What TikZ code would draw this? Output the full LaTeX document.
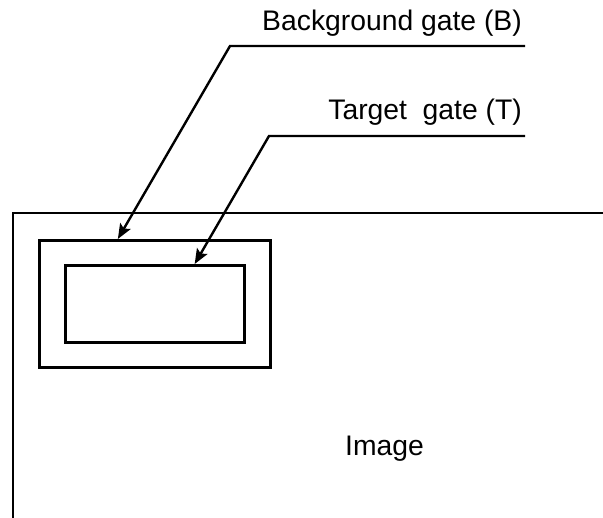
\documentclass[tikz,border=0pt]{standalone}
\usepackage{fontspec}
\setmainfont{Liberation Sans}
\usetikzlibrary{arrows.meta,calc}
\begin{document}
\begin{tikzpicture}[x=1bp,y=-1bp,
  gate/.style={draw,line width=2.5bp,inner sep=0pt,anchor=north west},
  lbl/.style={inner sep=0pt,font=\fontsize{28.3bp}{34bp}\selectfont},
  leader/.style={line width=2.4bp,line join=miter,-{Stealth[length=15bp,width=12bp,inset=3bp]}},
  frame/.style={line width=2.2bp}
]
\useasboundingbox (0,0) rectangle (603,518);

% image border (runs off the right and bottom)
\coordinate (imgTR) at (603,213);
\coordinate (imgTL) at (13,213);
\coordinate (imgBL) at (13,518);
\draw[frame] (imgTR) -- (imgTL) -- (imgBL);
\node[lbl,anchor=base west] (imglabel) at (345,455) {Image};

% gates
\node[gate,minimum width=231bp,minimum height=127bp] (bg) at (38,239) {};
\node[gate,minimum width=179bp,minimum height=77bp] (tg) at (64,264) {};

% labels with leader lines
\node[lbl,anchor=base east] (blabel) at (522,31) {Background gate (B)};
\node[lbl,anchor=base east] (tlabel) at (522,120) {Target\ \ gate (T)};

\coordinate (bEnd) at (525,46);
\coordinate (bKnee) at (230,46);
\coordinate (tEnd) at (525,136);
\coordinate (tKnee) at (269,136);

\draw[leader] (bEnd) -- (bKnee) -- ($(bg.north west)!0.342!(bg.north east)$);
\draw[leader] (tEnd) -- (tKnee) -- ($(tg.north west)!0.72!(tg.north east)$);
\end{tikzpicture}
\end{document}
